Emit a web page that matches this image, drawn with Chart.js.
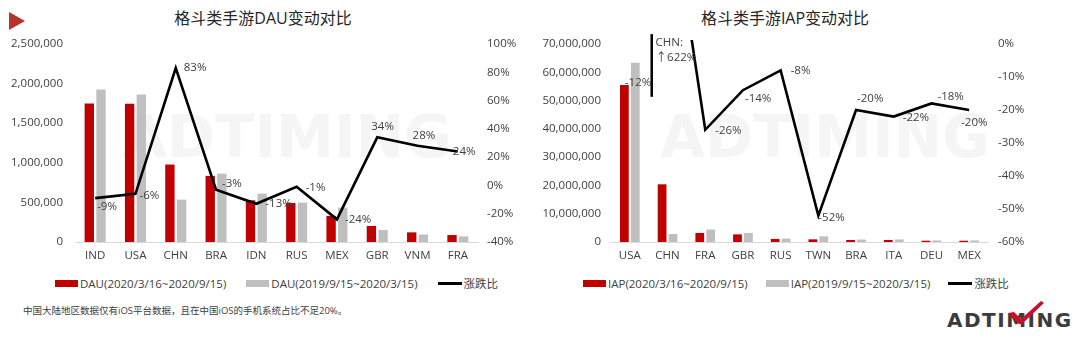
<!DOCTYPE html>
<html>
<head>
<meta charset="utf-8">
<script src="https://cdn.jsdelivr.net/npm/chart.js@4.4.1/dist/chart.umd.min.js"></script>
<style>
  html, body { margin: 0; padding: 0; background: #fff; }
  body {
    width: 1080px; height: 344px; position: relative; overflow: hidden;
    font-family: "Open Sans", "Noto Sans CJK SC", sans-serif; color: #404040;
  }
  .abs { position: absolute; }
  .mark {
    left: 9px; top: 12px; width: 0; height: 0;
    border-top: 9px solid transparent; border-bottom: 9px solid transparent;
    border-left: 16px solid #b8312a;
  }
  .title {
    top: 8px; font-size: 16px; line-height: 20px; color: #262626;
    white-space: nowrap; transform: translateX(-50%);
  }
  .watermark {
    font-family: "DejaVu Sans"; font-weight: bold; font-size: 58px;
    line-height: 58px; color: #f5f5f5; white-space: nowrap;
  }
  .legend {
    display: flex; align-items: center; height: 16px;
    font-size: 11.5px; white-space: nowrap; color: #404040;
  }
  .legend .item { display: flex; align-items: center; }
  .legend .sw { display: inline-block; margin-right: 2px; }
  .note { left: 23px; top: 304px; font-size: 9.5px; line-height: 13px; color: #404040; white-space: nowrap; }
  .logo {
    left: 947px; top: 309px; font-family: "DejaVu Sans"; font-weight: bold;
    font-size: 20px; line-height: 22px; letter-spacing: 1.5px; color: #3c3c3c;
  }
  canvas { position: absolute; }
</style>
</head>
<body>
<div class="abs mark"></div>
<div class="abs watermark" style="left:122px;top:108px;">ADTIMING</div>
<div class="abs watermark" style="left:660px;top:108px;">ADTIMING</div>

<div class="abs title" style="left:263px;">格斗类手游DAU变动对比</div>
<div class="abs title" style="left:785px;">格斗类手游IAP变动对比</div>

<canvas id="dauChart" width="526" height="270" style="left:0;top:0;"></canvas>
<canvas id="iapChart" width="490" height="270" style="left:540px;top:0;"></canvas>

<div id="dauLegend" class="abs legend" style="left:55px;top:275px;"></div>
<div id="iapLegend" class="abs legend" style="left:583px;top:275px;"></div>

<div class="abs note">中国大陆地区数据仅有iOS平台数据，且在中国iOS的手机系统占比不足20%。</div>

<div class="abs logo">ADTIMING</div>
<svg class="abs" style="left:1004px;top:298px;" width="42" height="28" viewBox="0 0 42 28">
  <polygon points="4,15 10,14 17,21 37,3 40,5 18,26 15,26" fill="#c8102e"/>
</svg>

<script>
"use strict";

// DAU chart
const dauCountries = ["IND", "USA", "CHN", "BRA", "IDN", "RUS", "MEX", "GBR", "VNM", "FRA"];
const dauRecent = [1750000, 1745000, 978000, 835000, 527000, 493000, 330000, 203000, 122000, 88000];
const dauPrior = [1925000, 1863000, 535000, 864000, 611000, 497000, 435000, 152000, 95000, 71000];
const dauChange = [-9, -6, 83, -3, -13, -1, -24, 34, 28, 24];

// IAP chart
const iapCountries = ["USA", "CHN", "FRA", "GBR", "RUS", "TWN", "BRA", "ITA", "DEU", "MEX"];
const iapRecent = [55500000, 20400000, 3200000, 2700000, 1100000, 950000, 700000, 700000, 450000, 450000];
const iapPrior = [63400000, 2820000, 4400000, 3200000, 1200000, 2000000, 880000, 900000, 550000, 560000];
const iapChange = [-12, 622, -26, -14, -8, -52, -20, -22, -18, -20];
const IAP_AXIS_BREAK = 50; // values above this are drawn off the top (broken axis)

// label offsets from each line point [dx, dy]
const dauLabelOffsets = [[2, 9], [4, 2], [8, 0], [6, -6], [9, 0], [9, 1], [8, 0], [-6, -11], [-5, -10], [-5, 0]];
const iapLabelOffsets = [[-5, -1], [-12, -1], [10, 1], [2, 9], [10, 0], [0, 2], [1, -11], [9, 1], [6, -7], [-8, 13]];

const FONT = '"Open Sans", "Noto Sans CJK SC", sans-serif';
const TEXT = "#404040";
const RED = "#c00000";
const GRAY = "#bfbfbf";

Chart.defaults.font.family = FONT;
Chart.defaults.color = TEXT;

function changeLabels(offsets, textFor) {
  return {
    id: "changeLabels",
    afterDatasetsDraw(chart) {
      const meta = chart.getDatasetMeta(2);
      const ctx = chart.ctx;
      ctx.save();
      ctx.font = "11.5px " + FONT;
      ctx.fillStyle = TEXT;
      ctx.textAlign = "left";
      ctx.textBaseline = "middle";
      meta.data.forEach((pt, i) => {
        const lines = textFor(i);
        const [dx, dy] = offsets[i];
        const y0 = Math.max(pt.y, chart.chartArea.top);
        lines.forEach((t, k) => ctx.fillText(t, pt.x + dx, y0 + dy + k * 15));
      });
      ctx.restore();
    },
  };
}

// short vertical stroke marking the broken USA -> CHN segment
const axisBreak = {
  id: "axisBreak",
  afterDatasetsDraw(chart) {
    const x = chart.scales.x.getPixelForValue(0.58);
    const yTop = chart.scales.yPct.getPixelForValue(3);
    const yBottom = chart.scales.yPct.getPixelForValue(-16);
    const ctx = chart.ctx;
    ctx.save();
    ctx.strokeStyle = "#000";
    ctx.lineWidth = 2.5;
    ctx.beginPath();
    ctx.moveTo(x, yTop);
    ctx.lineTo(x, yBottom);
    ctx.stroke();
    ctx.restore();
  },
};

function makeOptions(y, yPct) {
  return {
    responsive: false,
    animation: false,
    layout: { padding: { top: 44, bottom: 0, left: 0, right: 0 } },
    plugins: { legend: { display: false }, tooltip: { enabled: false }, title: { display: false } },
    scales: {
      x: {
        grid: { display: false, drawTicks: false },
        border: { display: true, color: "#d9d9d9", width: 1 },
        ticks: { font: { size: 11.5 }, color: TEXT, padding: 7, maxRotation: 0 },
        afterFit: (s) => { s.height = 28; },
      },
      y: {
        position: "left",
        min: 0,
        max: y.max,
        grid: { display: false, drawTicks: false },
        border: { display: false },
        ticks: {
          stepSize: y.step,
          font: { size: 11.5 },
          color: TEXT,
          padding: y.pad,
          callback: (v) => v.toLocaleString("en-US"),
        },
        afterFit: (s) => { s.width = y.width; },
      },
      yPct: {
        position: "right",
        min: yPct.min,
        max: yPct.max,
        grid: { display: false, drawTicks: false },
        border: { display: false },
        ticks: {
          stepSize: yPct.step,
          font: { size: 11.5 },
          color: TEXT,
          padding: yPct.pad,
          callback: (v) => v + "%",
        },
        afterFit: (s) => { s.width = yPct.width; },
      },
    },
  };
}

function buildLegend(chart, el, gap) {
  chart.data.datasets.forEach((ds, i) => {
    const item = document.createElement("span");
    item.className = "item";
    if (i < chart.data.datasets.length - 1) item.style.marginRight = gap + "px";
    const sw = document.createElement("span");
    sw.className = "sw";
    if (ds.type === "line") {
      sw.style.cssText += "width:24px;height:3px;background:" + ds.borderColor + ";";
    } else {
      sw.style.cssText += "width:23px;height:7px;background:" + ds.backgroundColor + ";";
    }
    const txt = document.createElement("span");
    txt.textContent = ds.label;
    item.appendChild(sw);
    item.appendChild(txt);
    el.appendChild(item);
  });
}

const dauChart = new Chart(document.getElementById("dauChart"), {
  type: "bar",
  data: {
    labels: dauCountries,
    datasets: [
      { label: "DAU(2020/3/16~2020/9/15)", data: dauRecent, backgroundColor: RED, yAxisID: "y", order: 1,
        barPercentage: 0.8, categoryPercentage: 0.58 },
      { label: "DAU(2019/9/15~2020/3/15)", data: dauPrior, backgroundColor: GRAY, yAxisID: "y", order: 1,
        barPercentage: 0.8, categoryPercentage: 0.58 },
      { type: "line", label: "涨跌比", data: dauChange, yAxisID: "yPct", order: 0,
        borderColor: "#000", backgroundColor: "#000", borderWidth: 2.6, pointRadius: 0, tension: 0 },
    ],
  },
  options: makeOptions(
    { max: 2500000, step: 500000, pad: 12, width: 75 },
    { min: -40, max: 100, step: 20, pad: 9, width: 48 }
  ),
  plugins: [changeLabels(dauLabelOffsets, (i) => [dauChange[i] + "%"])],
});

const iapChart = new Chart(document.getElementById("iapChart"), {
  type: "bar",
  data: {
    labels: iapCountries,
    datasets: [
      { label: "IAP(2020/3/16~2020/9/15)", data: iapRecent, backgroundColor: RED, yAxisID: "y", order: 1,
        barPercentage: 0.8, categoryPercentage: 0.58 },
      { label: "IAP(2019/9/15~2020/3/15)", data: iapPrior, backgroundColor: GRAY, yAxisID: "y", order: 1,
        barPercentage: 0.8, categoryPercentage: 0.58 },
      { type: "line", label: "涨跌比", data: iapChange.map((v) => Math.min(v, IAP_AXIS_BREAK)),
        yAxisID: "yPct", order: 0, borderColor: "#000", backgroundColor: "#000", borderWidth: 2.6,
        pointRadius: 0, tension: 0, clip: { left: 2, top: 4, right: 2, bottom: 2 },
        segment: {
          borderColor: (c) => (iapChange[c.p1DataIndex] > IAP_AXIS_BREAK ? "rgba(0,0,0,0)" : undefined),
        } },
    ],
  },
  options: makeOptions(
    { max: 70000000, step: 10000000, pad: 10, width: 71 },
    { min: -60, max: 0, step: 10, pad: 10, width: 42 }
  ),
  plugins: [
    changeLabels(iapLabelOffsets, (i) =>
      iapChange[i] > IAP_AXIS_BREAK ? [iapCountries[i] + ":", "↑" + iapChange[i] + "%"] : [iapChange[i] + "%"]
    ),
    axisBreak,
  ],
});

buildLegend(dauChart, document.getElementById("dauLegend"), 20);
buildLegend(iapChart, document.getElementById("iapLegend"), 18);
</script>
</body>
</html>
